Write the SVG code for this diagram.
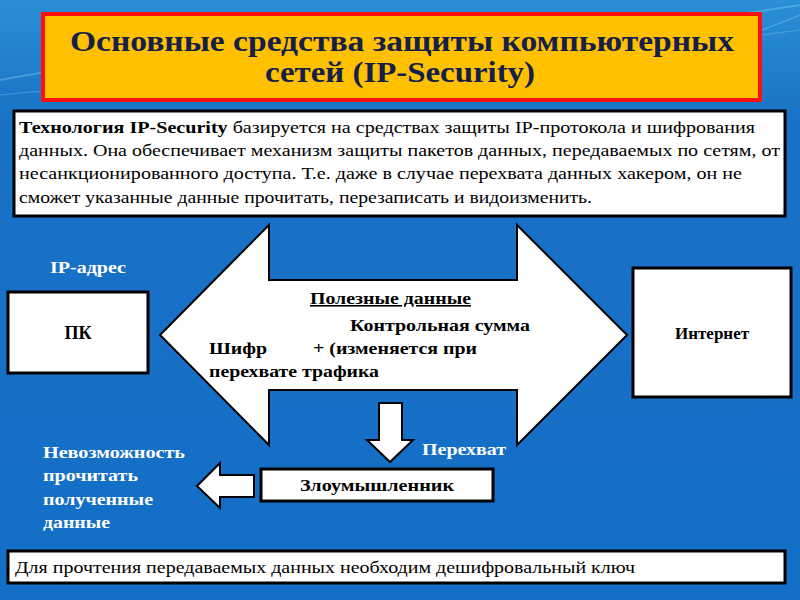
<svg xmlns="http://www.w3.org/2000/svg" width="800" height="600" viewBox="0 0 800 600">
<defs>
<linearGradient id="bg" x1="0" y1="0" x2="0" y2="1">
<stop offset="0" stop-color="#2a8fd6"/>
<stop offset="0.2" stop-color="#1a72c6"/>
<stop offset="1" stop-color="#136ec6"/>
</linearGradient>
<style>
.box{fill:#fff;stroke:#000;stroke-width:3}
.shape{fill:#fff;stroke:#000;stroke-width:2;stroke-linejoin:miter}
text{font-family:'Liberation Serif','Tinos','DejaVu Serif',serif}
.tb{font-weight:bold;fill:#000}
.tr{fill:#000}
.tw{font-weight:bold;fill:#fff}
.title{font-weight:bold;fill:#14204a;font-size:29px}
</style>
</defs>
<rect x="0" y="0" width="800" height="600" fill="url(#bg)"/>
<g fill="none" stroke="#8fd4f0" stroke-opacity="0.35">
<path d="M0 80 C200 40 450 60 800 5" stroke-width="2"/>
<path d="M600 80 C680 60 740 40 800 15" stroke-width="1.5"/>
<path d="M0 95 C250 70 500 70 800 30" stroke-width="1"/>
</g>

<g id="title">
<rect x="43" y="14" width="717" height="86" fill="#ffc000" stroke="#ff1010" stroke-width="4"/>
<text class="title" x="402" y="51" text-anchor="middle" textLength="664" lengthAdjust="spacingAndGlyphs">Основные средства защиты компьютерных</text>
<text class="title" x="400" y="82" text-anchor="middle" textLength="270" lengthAdjust="spacingAndGlyphs">сетей (IP-Security)</text>
</g>

<g id="description">
<rect class="box" x="14" y="111" width="771" height="105"/>
<text class="tr" font-size="17" x="19" y="133" textLength="736" lengthAdjust="spacingAndGlyphs"><tspan font-weight="bold">Технология IP-Security</tspan> базируется на средствах защиты IP-протокола и шифрования</text>
<text class="tr" font-size="17" x="19" y="156" textLength="761" lengthAdjust="spacingAndGlyphs">данных. Она обеспечивает механизм защиты пакетов данных, передаваемых по сетям, от</text>
<text class="tr" font-size="17" x="19" y="179" textLength="723" lengthAdjust="spacingAndGlyphs">несанкционированного  доступа. Т.е. даже в случае перехвата данных хакером, он не</text>
<text class="tr" font-size="17" x="19" y="203" textLength="573" lengthAdjust="spacingAndGlyphs">сможет указанные данные прочитать, перезаписать и видоизменить.</text>
</g>

<g id="channel">
<path class="shape" d="M160 335 L269 225 L269 280 L517 280 L517 225 L627 335 L517 445 L517 390 L269 390 L269 445 Z"/>
<text class="tb" font-size="16" x="310" y="304" text-decoration="underline" textLength="161" lengthAdjust="spacingAndGlyphs">Полезные данные</text>
<text class="tb" font-size="16" x="350" y="331" textLength="180" lengthAdjust="spacingAndGlyphs">Контрольная сумма</text>
<text class="tb" font-size="16" x="209" y="354" textLength="58" lengthAdjust="spacingAndGlyphs">Шифр</text>
<text class="tb" font-size="16" x="313" y="354" textLength="164" lengthAdjust="spacingAndGlyphs">+ (изменяется при</text>
<text class="tb" font-size="16" x="209" y="377" textLength="170" lengthAdjust="spacingAndGlyphs">перехвате трафика</text>
</g>

<g id="pc">
<rect class="box" x="8" y="292" width="140" height="81"/>
<text class="tb" font-size="18" x="78" y="339" text-anchor="middle">ПК</text>
<text class="tw" font-size="17" x="50" y="273" textLength="76" lengthAdjust="spacingAndGlyphs">IP-адрес</text>
</g>

<g id="internet">
<rect class="box" x="633" y="268" width="158" height="129"/>
<text class="tb" font-size="17" x="712" y="339" text-anchor="middle">Интернет</text>
</g>

<g id="intercept-arrow">
<path class="shape" d="M379 403 L402 403 L402 440 L413 440 L390 462 L367 440 L379 440 Z"/>
<text class="tw" font-size="17" x="422" y="455" textLength="84" lengthAdjust="spacingAndGlyphs">Перехват</text>
</g>

<g id="attacker">
<rect class="box" x="261" y="469" width="232" height="32"/>
<text class="tb" font-size="16" x="377" y="491" text-anchor="middle" textLength="154" lengthAdjust="spacingAndGlyphs">Злоумышленник</text>
</g>

<g id="result-arrow">
<path class="shape" d="M197 486 L220 463 L220 475 L254 475 L254 497 L220 497 L220 508 Z"/>
<text class="tw" font-size="17" x="43" y="458" textLength="142" lengthAdjust="spacingAndGlyphs">Невозможность</text>
<text class="tw" font-size="17" x="43" y="481" textLength="95" lengthAdjust="spacingAndGlyphs">прочитать</text>
<text class="tw" font-size="17" x="43" y="505" textLength="110" lengthAdjust="spacingAndGlyphs">полученные</text>
<text class="tw" font-size="17" x="43" y="528" textLength="67" lengthAdjust="spacingAndGlyphs">данные</text>
</g>

<g id="note">
<rect class="box" x="8" y="551" width="777" height="32"/>
<text class="tr" font-size="17" x="15" y="573" textLength="620" lengthAdjust="spacingAndGlyphs">Для прочтения передаваемых данных необходим дешифровальный ключ</text>
</g>
</svg>
